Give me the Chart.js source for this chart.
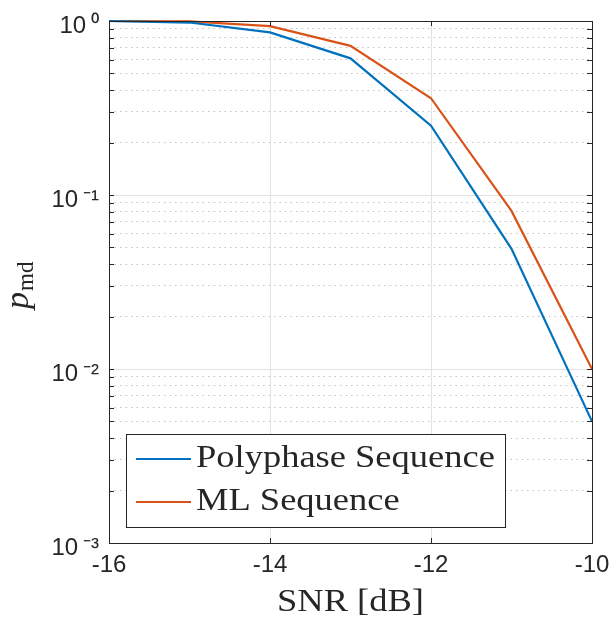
<!DOCTYPE html>
<html>
<head>
<meta charset="utf-8">
<script src="https://cdn.jsdelivr.net/npm/chart.js@4"></script>
<style>
  html, body { margin: 0; padding: 0; background: #ffffff; }
  #wrap { width: 610px; height: 624px; position: relative; }
</style>
</head>
<body>
<div id="wrap"><canvas id="chart"></canvas></div>
<script>
// values
const snrDb = [-16, -15, -14, -13, -12, -11, -10];
const polyphase = [1.0, 0.98, 0.86, 0.61, 0.25, 0.049, 0.005];
const mlSeq = [1.0, 0.995, 0.935, 0.72, 0.36, 0.081, 0.01];
const xTicks = [-16, -14, -12, -10];
const yDecades = [0.001, 0.01, 0.1, 1];
const yMinors = [];
yDecades.slice(0, 3).forEach((d) => {
  for (let k = 2; k <= 9; k++) yMinors.push(d * k);
});

const AXIS_COLOR = "#262626";
const SERIF = "'Liberation Serif', 'Times New Roman', serif";
const SANS = "'Liberation Sans', Arial, Helvetica, sans-serif";
const STRETCH = 1.14; // the LaTeX serif is wider than Times

const SUP = { "-": "\u207B", "0": "\u2070", "1": "\u00B9", "2": "\u00B2", "3": "\u00B3" };
function powLabel(v) {
  const e = Math.round(Math.log10(v));
  return "10\u2009" + String(e).split("").map((c) => SUP[c]).join("");
}

function stretchedText(ctx, text, x, y, align) {
  ctx.save();
  ctx.translate(x, y);
  ctx.scale(STRETCH, 1);
  ctx.textAlign = align;
  ctx.fillText(text, 0, 0);
  ctx.restore();
}

// box, inward ticks, titles and legend in the MATLAB look
const matlabFrame = {
  id: "matlabFrame",
  afterDatasetsDraw(chart) {
    const { ctx, chartArea: a, scales } = chart;
    const len = 5;
    ctx.save();
    ctx.strokeStyle = AXIS_COLOR;
    ctx.lineWidth = 1;
    ctx.beginPath();
    xTicks.forEach((v) => {
      const px = Math.round(scales.x.getPixelForValue(v)) + 0.5;
      ctx.moveTo(px, a.bottom); ctx.lineTo(px, a.bottom - len);
      ctx.moveTo(px, a.top); ctx.lineTo(px, a.top + len);
    });
    yDecades.concat(yMinors).forEach((v) => {
      const py = Math.round(scales.y.getPixelForValue(v)) + 0.5;
      ctx.moveTo(a.left, py); ctx.lineTo(a.left + len, py);
      ctx.moveTo(a.right, py); ctx.lineTo(a.right - len, py);
    });
    ctx.stroke();
    ctx.strokeRect(Math.round(a.left) + 0.5, Math.round(a.top) + 0.5,
      Math.round(a.right - a.left), Math.round(a.bottom - a.top));

    // legend
    const lx = a.left + 17, ly = a.bottom - 16 - 93;
    ctx.fillStyle = "#ffffff";
    ctx.fillRect(lx, ly, 379, 93);
    ctx.strokeRect(Math.round(lx) + 0.5, Math.round(ly) + 0.5, 379, 93);
    chart.data.datasets.forEach((ds, i) => {
      const rowY = ly + 25 + i * 43;
      ctx.strokeStyle = ds.borderColor;
      ctx.lineWidth = 2.2;
      ctx.beginPath();
      ctx.moveTo(lx + 10, rowY); ctx.lineTo(lx + 65, rowY);
      ctx.stroke();
      ctx.fillStyle = AXIS_COLOR;
      ctx.font = "32px " + SERIF;
      ctx.textBaseline = "alphabetic";
      stretchedText(ctx, ds.label, lx + 70, rowY + 8, "left");
    });

    // x title
    ctx.fillStyle = AXIS_COLOR;
    ctx.font = "32px " + SERIF;
    ctx.textBaseline = "alphabetic";
    stretchedText(ctx, "SNR [dB]", (a.left + a.right) / 2, a.bottom + 68, "center");

    // y title: italic p with roman subscript md
    const cy = (a.top + a.bottom) / 2;
    ctx.save();
    ctx.translate(28, cy + 27);
    ctx.rotate(-Math.PI / 2);
    ctx.textAlign = "left";
    ctx.font = "italic 34px " + SERIF;
    ctx.fillText("p", 0, 0);
    const pw = ctx.measureText("p").width;
    ctx.font = "23px " + SERIF;
    ctx.fillText("md", pw + 1, 5);
    ctx.restore();
    ctx.restore();
  }
};

new Chart(document.getElementById("chart"), {
  type: "line",
  data: {
    labels: snrDb,
    datasets: [
      {
        label: "Polyphase Sequence",
        data: snrDb.map((x, i) => ({ x: x, y: polyphase[i] })),
        borderColor: "#0072BD",
        borderWidth: 2.2,
        pointRadius: 0,
        tension: 0,
        fill: false,
        clip: 3
      },
      {
        label: "ML Sequence",
        data: snrDb.map((x, i) => ({ x: x, y: mlSeq[i] })),
        borderColor: "#D95319",
        borderWidth: 2.2,
        pointRadius: 0,
        tension: 0,
        fill: false,
        clip: 3
      }
    ]
  },
  options: {
    responsive: true,
    maintainAspectRatio: false,
    animation: false,
    layout: { padding: { top: 21, right: 18, left: 0, bottom: 0 } },
    plugins: {
      legend: { display: false },
      tooltip: { enabled: false }
    },
    scales: {
      x: {
        type: "linear",
        min: -16,
        max: -10,
        afterBuildTicks: (scale) => { scale.ticks = xTicks.map((v) => ({ value: v })); },
        afterFit: (scale) => {
          scale.height = 81;
          scale.paddingLeft = 0;
          scale.paddingRight = 0;
        },
        ticks: {
          color: AXIS_COLOR,
          font: { family: SANS, size: 24 },
          padding: 8,
          maxRotation: 0,
          callback: (v) => String(v)
        },
        grid: { color: "#e2e2e2", lineWidth: 1, drawTicks: false },
        border: { display: false }
      },
      y: {
        type: "logarithmic",
        min: 0.001,
        max: 1,
        afterBuildTicks: (scale) => { scale.ticks = yDecades.map((v) => ({ value: v, major: true })); },
        afterFit: (scale) => {
          scale.width = 109;
          scale.paddingTop = 0;
          scale.paddingBottom = 0;
        },
        ticks: {
          color: AXIS_COLOR,
          font: { family: SANS, size: 24 },
          padding: 10,
          labelOffset: 5,
          autoSkip: false,
          callback: (v) => powLabel(v)
        },
        grid: { color: "#e2e2e2", lineWidth: 1, drawTicks: false },
        border: { display: false }
      },
      yMinor: {
        type: "logarithmic",
        position: "left",
        min: 0.001,
        max: 1,
        afterBuildTicks: (scale) => { scale.ticks = yMinors.map((v) => ({ value: v })); },
        afterFit: (scale) => { scale.width = 0; },
        ticks: { display: false },
        grid: { color: "#c4c4c4", lineWidth: 1, drawTicks: false },
        border: { display: false, dash: [1.5, 4] }
      }
    }
  },
  plugins: [matlabFrame]
});
</script>
</body>
</html>
